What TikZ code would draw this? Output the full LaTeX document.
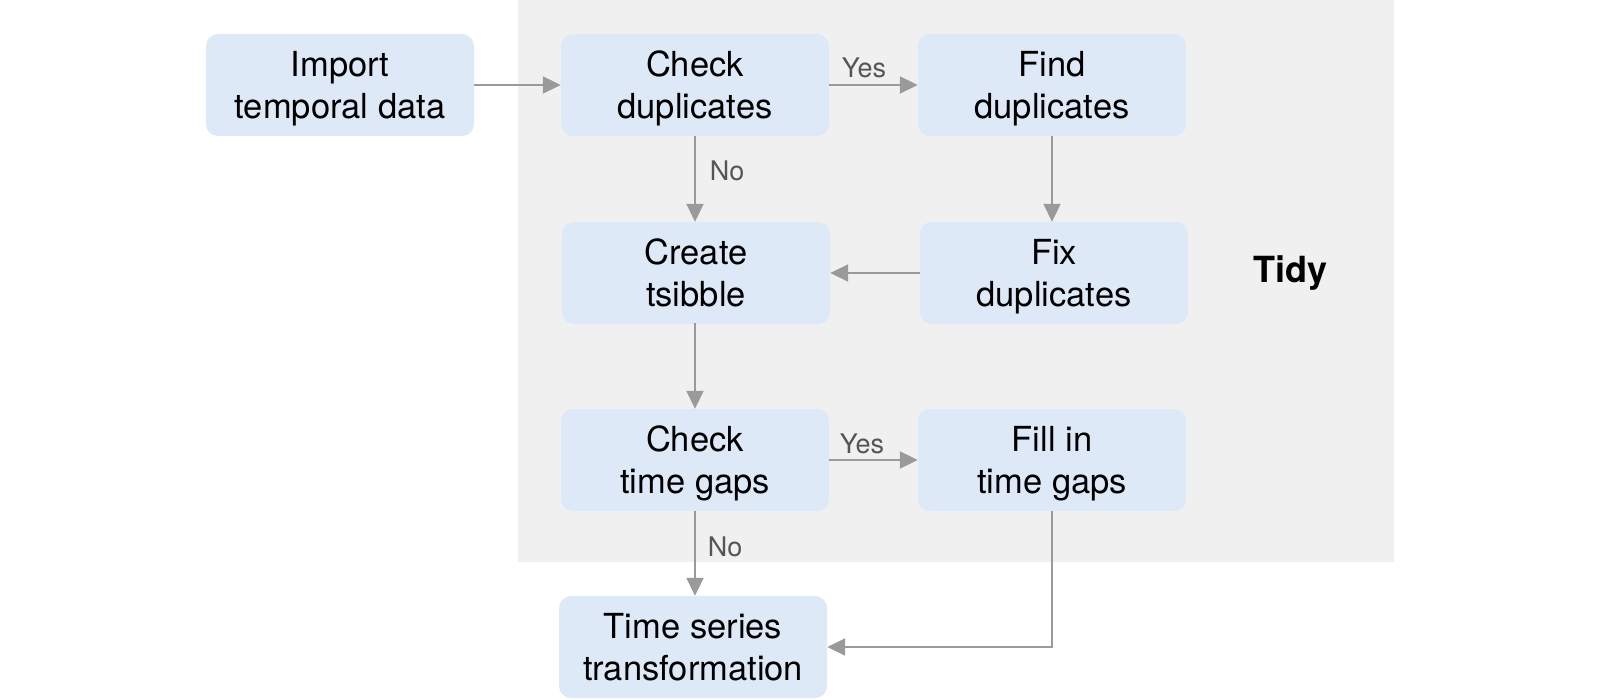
\documentclass[tikz,border=0pt]{standalone}
\usepackage{fontspec}
\setmainfont{TeX Gyre Heros}
\usetikzlibrary{arrows.meta}
\definecolor{boxblue}{HTML}{DDE9F6}
\definecolor{panelgray}{HTML}{F0F0F0}
\definecolor{linegray}{HTML}{9A9A9A}
\definecolor{labelgray}{HTML}{555555}
\tikzset{
  stepbox/.style={rounded corners=12pt, fill=boxblue, minimum width=268pt,
    minimum height=102pt, inner sep=0pt, align=center, text depth=0pt,
    font=\fontsize{34.5}{42}\selectfont},
  flow/.style={draw=linegray, line width=2pt,
    -{Triangle[length=18pt,width=17pt]}},
  branch/.style={text=labelgray, font=\fontsize{27}{30}\selectfont, inner sep=0pt},
}
\begin{document}
\begin{tikzpicture}[x=1pt,y=-1pt]
  \useasboundingbox (0,0) rectangle (1605,700);
  % shaded panel for the tidy stage
  \fill[panelgray] (518,0) rectangle (1394,562);
  \node[font=\bfseries\fontsize{36}{40}\selectfont] (tidy) at (1290,273) {Tidy};

  % steps
  \node[stepbox] (imp)    at (340,85)  {Import\\temporal data};
  \node[stepbox] (chk)    at (695,85)  {Check\\duplicates};
  \node[stepbox] (find)   at (1052,85) {Find\\duplicates};
  \node[stepbox] (create) at (696,273) {Create\\tsibble};
  \node[stepbox] (fix)    at (1054,273){Fix\\duplicates};
  \node[stepbox] (gaps)   at (695,460) {Check\\time gaps};
  \node[stepbox] (fill)   at (1052,460){Fill in\\time gaps};
  \node[stepbox] (trans)  at (693,647) {Time series\\transformation};

  % connectors
  \draw[flow] (imp) -- (chk);
  \draw[flow] (chk) -- (find);
  \draw[flow] (chk.south) -- (chk.south |- create.north);
  \draw[flow] (find) -- (find.south |- fix.north);
  \draw[flow] (fix) -- (create);
  \draw[flow] (create.south) -- (create.south -| gaps.south) -- (gaps.north);
  \draw[flow] (gaps) -- (fill);
  \draw[flow] (gaps.south) -- (gaps.south |- trans.north);
  \draw[flow] (fill.south) |- (trans.east);

  % branch labels
  \node[branch] (yes1) at (864,68)  {Yes};
  \node[branch] (no1)  at (727,171) {No};
  \node[branch] (yes2) at (862,444) {Yes};
  \node[branch] (no2)  at (725,547) {No};
\end{tikzpicture}
\end{document}
